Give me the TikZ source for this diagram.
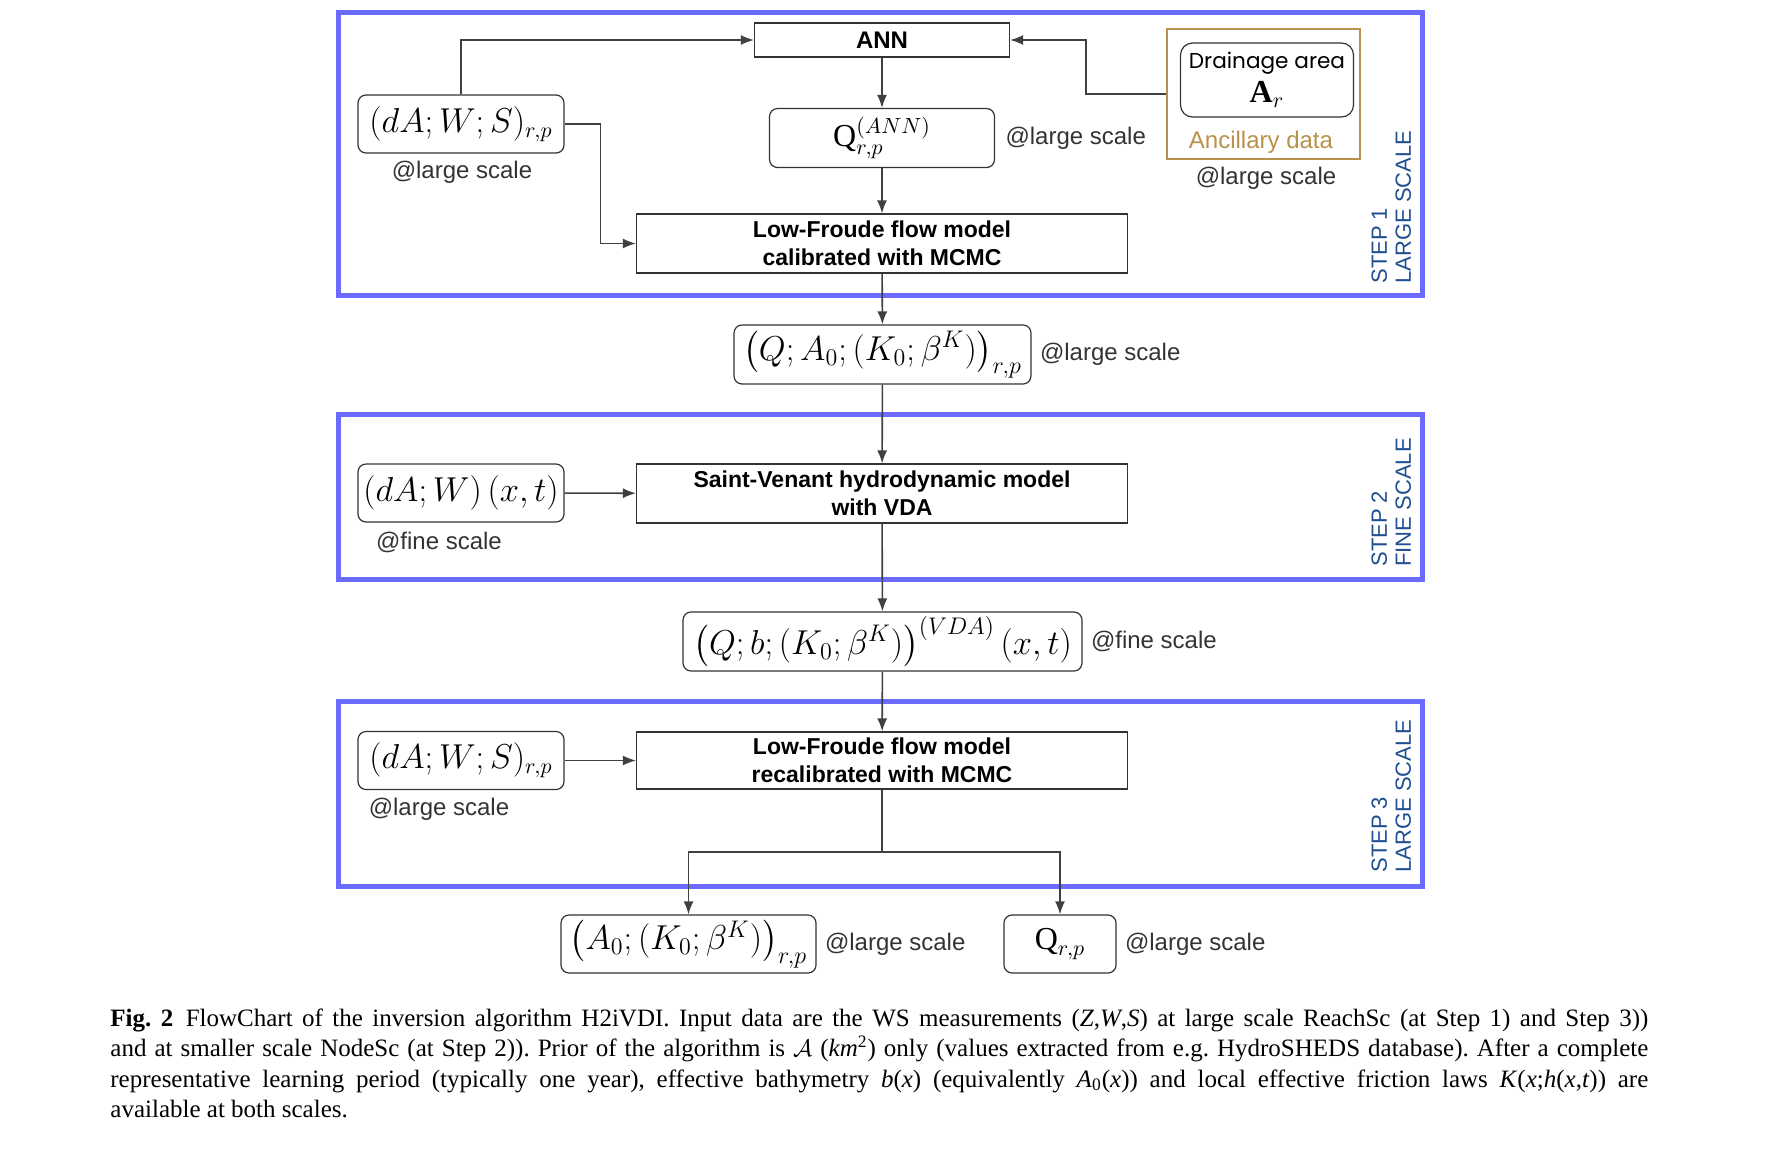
\documentclass[tikz,border=0pt]{standalone}
\usepackage{amsmath}
\usepackage{fontspec}
\setmainfont{Liberation Serif}
\setsansfont{Liberation Sans}
\newfontfamily\drainfont{Poppins}
\usepackage{xcolor}
\usepackage{tikz}
\usetikzlibrary{arrows.meta,positioning}
\definecolor{stepblue}{HTML}{6B6BFF}
\definecolor{steptext}{HTML}{1F4E91}
\definecolor{ancillary}{HTML}{B8914A}
\definecolor{edgegray}{HTML}{404040}
\definecolor{boxstroke}{HTML}{333333}
\definecolor{labelgray}{HTML}{333333}

\begin{document}
\begin{tikzpicture}[
  x=0.5pt,
  y=-0.5pt,
  every node/.style={
    inner sep=2pt
  },
  model/.style={
    rectangle,
    draw=boxstroke,
    line width=0.6pt,
    align=center,
    font=\sffamily\bfseries\fontsize{11.5}{14}\selectfont,
    minimum width=245.5pt,
    minimum height=29.5pt
  },
  data/.style={
    rectangle,
    rounded corners=4pt,
    draw=boxstroke,
    line width=0.6pt,
    align=center,
    font=\fontsize{16}{19}\selectfont,
    minimum height=29pt
  },
  scalelabel/.style={
    font=\sffamily\fontsize{12}{14}\selectfont,
    text=labelgray
  },
  stepframe/.style={
    draw=stepblue,
    line width=2.5pt
  },
  steplabel/.style={
    rotate=90,
    anchor=north west,
    align=left,
    inner sep=0pt,
    text=steptext,
    font=\sffamily\fontsize{11}{12}\selectfont
  },
  flow/.style={
    -{Latex[length=6.5pt,width=5pt]},
    draw=edgegray,
    line width=0.8pt
  }
]

\useasboundingbox (0,0) rectangle (1776,1158);

% Step frames
\draw[stepframe] (338,12) rectangle (1422,295);
\draw[stepframe] (338,414) rectangle (1422,579);
\draw[stepframe] (338,701) rectangle (1422,886);

\node[steplabel] (step1) at (1371,284) {STEP 1\\LARGE SCALE};
\node[steplabel] (step2) at (1371,567) {STEP 2\\FINE SCALE};
\node[steplabel] (step3) at (1371,873) {STEP 3\\LARGE SCALE};

% Step 1
\node[model, minimum width=127.5pt, minimum height=17pt,
  font=\sffamily\bfseries\fontsize{12}{14}\selectfont] (ann) at (882,40) {ANN};
\node[data, minimum width=103pt] (dws1) at (461,124) {$(dA;W;S)_{r,p}$};
\node[scalelabel] (dws1lbl) at (462,172) {@large scale};
\node[data, minimum width=112.5pt, minimum height=29.5pt] (qann) at (882,138) {$\mathrm{Q}_{r,p}^{(ANN)}$};
\node[scalelabel, right=3pt of qann] (qannlbl) {@large scale};

\node[draw=ancillary, line width=1pt, minimum width=96.5pt, minimum height=65pt] (anc) at (1263.5,94) {};
\node[data, rounded corners=6pt, minimum width=86.5pt, minimum height=37pt] (drain) at (1267,80)
  {{\drainfont\fontsize{10.8}{13}\selectfont Drainage area}\\[-2pt]$\mathbf{A}_r$};
\node[font=\sffamily\fontsize{12}{14}\selectfont, text=ancillary] (anclbl) at (1261,142) {Ancillary data};
\node[scalelabel] (anclbl2) at (1266,178) {@large scale};

\node[model] (lfc) at (882,243.5) {Low-Froude flow model\\calibrated with MCMC};

% Between step 1 and step 2
\node[data, minimum width=148.5pt, minimum height=29.5pt,
  font=\fontsize{17}{20}\selectfont] (qa0) at (882.5,354.5) {$\bigl(Q;A_0;(K_0;\beta^K)\bigr)_{r,p}$};
\node[scalelabel, right=2pt of qa0] (qa0lbl) {@large scale};

% Step 2
\node[data, minimum width=103pt] (dwxt) at (461,493) {$(dA;W)\,(x,t)$};
\node[scalelabel] (dwxtlbl) at (439,542) {@fine scale};
\node[model] (sv) at (882,493.5) {Saint-Venant hydrodynamic model\\with VDA};

% Between step 2 and step 3
\node[data, minimum width=199.5pt, minimum height=29.5pt,
  font=\fontsize{17}{20}\selectfont] (qvda) at (882.5,641.5) {$\bigl(Q;b;(K_0;\beta^K)\bigr)^{(VDA)}\,(x,t)$};
\node[scalelabel, right=2pt of qvda] (qvdalbl) {@fine scale};

% Step 3
\node[data, minimum width=103pt] (dws3) at (461,760.5) {$(dA;W;S)_{r,p}$};
\node[scalelabel] (dws3lbl) at (439,809) {@large scale};
\node[model, minimum height=28.5pt] (lfr) at (882,760.5) {Low-Froude flow model\\recalibrated with MCMC};

% Outputs
\node[data, minimum width=127.5pt, font=\fontsize{17}{20}\selectfont] (a0) at (688.5,944) {$\bigl(A_0;(K_0;\beta^K)\bigr)_{r,p}$};
\node[scalelabel, right=2pt of a0] (a0lbl) {@large scale};
\node[data, minimum width=56pt] (qrp) at (1060,944) {$\mathrm{Q}_{r,p}$};
\node[scalelabel, right=2pt of qrp] (qrplbl) {@large scale};

% Connectors
\draw[flow] (dws1.north) |- (ann.west);
\draw[flow] (dws1.east) -- ++(36,0) |- (lfc.west);
\draw[flow] (anc.west) -- ++(-80,0) |- (ann.east);
\draw[flow] (ann) -- (qann);
\draw[flow] (qann) -- (lfc);
\draw[flow] (lfc) -- (qa0);
\draw[flow] (qa0) -- (sv);
\draw[flow] (dwxt) -- (sv);
\draw[flow] (sv) -- (qvda);
\draw[flow] (qvda) -- (lfr);
\draw[flow] (dws3) -- (lfr);
\coordinate (split) at (882,852);
\draw[flow] (lfr) -- (split) -| (a0);
\draw[flow] (split) -| (qrp);

% Caption
\node[anchor=north west, text width=769pt, align=justify, inner sep=0pt,
  font=\fontsize{12.5}{15.3}\selectfont\frenchspacing] (caption) at (110,1008)
{\textbf{Fig. 2}\hspace{0.5em}FlowChart of the inversion algorithm H2iVDI. Input data are the WS measurements (\textit{Z},\textit{W},\textit{S}) at large scale ReachSc (at Step 1) and Step 3))\linebreak
and at smaller scale NodeSc (at Step 2)). Prior of the algorithm is $\mathcal{A}$ (\textit{km}\textsuperscript{2}) only (values extracted from e.g. HydroSHEDS database). After a complete\linebreak
representative learning period (typically one year), effective bathymetry \textit{b}(\textit{x}) (equivalently \textit{A}\textsubscript{0}(\textit{x})) and local effective friction laws \textit{K}(\textit{x};\textit{h}(\textit{x},\textit{t})) are\linebreak
available at both scales.};

\end{tikzpicture}
\end{document}
